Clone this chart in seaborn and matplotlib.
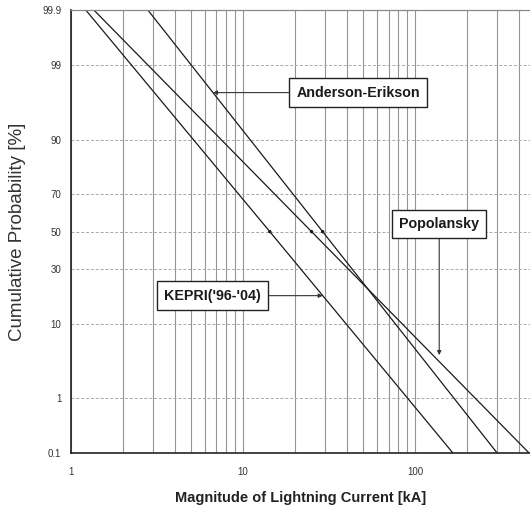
import matplotlib
matplotlib.use("Agg")
import matplotlib.pyplot as plt
import matplotlib.ticker as mticker
import numpy as np
import pandas as pd
import seaborn as sns
from statistics import NormalDist

# ---------------- data ----------------
prob_levels = [99.9, 50.0, 0.1]               # cumulative probability [%]
kepri_current = [1.22, 14.3, 166.0]           # kA
popolansky_current = [1.36, 25.0, 460.0]      # kA
anderson_current = [2.8, 29.0, 300.0]         # kA
series_names = ["KEPRI('96-'04)", "Popolansky", "Anderson-Erikson"]
y_tick_values = [0.1, 1, 10, 30, 50, 70, 90, 99, 99.9]
y_tick_labels = ["0.1", "1", "10", "30", "50", "70", "90", "99", "99.9"]
x_tick_values = [1, 10, 100]
x_tick_labels = ["1", "10", "100"]

nd = NormalDist()
def z_of(p):
    return nd.inv_cdf(p / 100.0)

rows = []
for name, cur in zip(series_names, [kepri_current, popolansky_current, anderson_current]):
    for p, c in zip(prob_levels, cur):
        rows.append({"series": name, "current": c, "z": z_of(p), "prob": p})
df = pd.DataFrame(rows)

def current_at(name, z):
    """interpolate (in log current) along the straight line of a series"""
    d = df[df.series == name].sort_values("z")
    return 10 ** np.interp(z, d.z.values, np.log10(d.current.values))

def z_at(name, current):
    d = df[df.series == name].sort_values("current")
    return np.interp(np.log10(current), np.log10(d.current.values), d.z.values)

# ---------------- figure ----------------
sns.set_theme(style="white")
plt.rcParams["font.family"] = ["Liberation Sans", "DejaVu Sans"]

fig = plt.figure(figsize=(5.30, 5.08), dpi=100)
ax = fig.add_axes([0.134, 0.108, 0.866, 0.872])

pal = {n: "#1a1a1a" for n in series_names}
sns.lineplot(data=df, x="current", y="z", hue="series", palette=pal,
             lw=0.9, legend=False, ax=ax, sort=True, estimator=None)
med = df[df.prob == 50.0]
sns.scatterplot(data=med, x="current", y="z", color="#1a1a1a", s=6,
                edgecolor="none", legend=False, ax=ax, zorder=5)

ax.set_xscale("log")
ax.set_xlim(1, 465)
ax.set_ylim(z_of(0.1), z_of(99.9))

ax.set_yticks([z_of(v) for v in y_tick_values])
ax.set_yticklabels(y_tick_labels)
ax.xaxis.set_major_locator(mticker.FixedLocator(x_tick_values))
ax.xaxis.set_major_formatter(mticker.FixedFormatter(x_tick_labels))
ax.xaxis.set_minor_locator(mticker.LogLocator(base=10, subs=np.arange(2, 10)))
ax.xaxis.set_minor_formatter(mticker.NullFormatter())

ax.tick_params(axis="both", which="major", labelsize=7, colors="#333333",
               length=3, width=0.8, direction="out", pad=4)
ax.tick_params(axis="x", which="minor", length=0)
ax.tick_params(axis="x", pad=7)

ax.grid(which="both", axis="x", color="#949494", lw=0.8, ls="-")
ax.grid(which="major", axis="y", color="#a8a8a8", lw=0.7, ls=(0, (3, 2)))

for s in ["left", "bottom"]:
    ax.spines[s].set_color("#222222")
    ax.spines[s].set_linewidth(1.2)
ax.spines["top"].set_color("#888888")
ax.spines["top"].set_linewidth(0.9)
ax.spines["right"].set_visible(False)

ax.set_xlabel("Magnitude of Lightning Current [kA]", fontsize=10.5,
              fontweight="bold", color="#222222", labelpad=10)
ax.set_ylabel("Cumulative Probability [%]", fontsize=13.5,
              color="#333333", labelpad=12)

box = dict(boxstyle="square,pad=0.5", fc="white", ec="#222222", lw=1.0)
arrow = dict(arrowstyle="-|>", color="#333333", lw=0.8, mutation_scale=6,
             shrinkA=0, shrinkB=0)
label_size = 10.3

# Anderson-Erikson label, arrow pointing left to its line
z_ae = 1.94
ax.annotate("Anderson-Erikson", xy=(current_at("Anderson-Erikson", z_ae), z_ae),
            xytext=(46.6, z_ae), textcoords="data", ha="center", va="center",
            fontsize=label_size, fontweight="bold", color="#1a1a1a", bbox=box,
            arrowprops=arrow, zorder=6)

# KEPRI label, arrow pointing right
z_k = -0.893
ax.annotate("KEPRI('96-'04)", xy=(current_at("KEPRI('96-'04)", z_k), z_k),
            xytext=(6.6, z_k), textcoords="data", ha="center", va="center",
            fontsize=label_size, fontweight="bold", color="#1a1a1a", bbox=box,
            arrowprops=arrow, zorder=6)

# Popolansky label, arrow pointing down
x_p = 138.0
ax.annotate("Popolansky", xy=(x_p, z_at("Popolansky", x_p) + 0.09),
            xytext=(x_p, 0.104), textcoords="data", ha="center", va="center",
            fontsize=label_size, fontweight="bold", color="#1a1a1a", bbox=box,
            arrowprops=arrow, zorder=6)

fig.savefig("out.png", dpi=100)
